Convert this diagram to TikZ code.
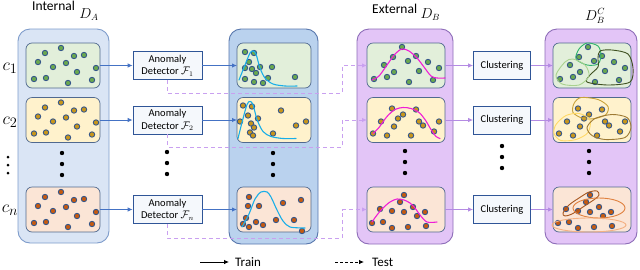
\documentclass[tikz,border=0pt]{standalone}
\usepackage{fontspec}
\setmainfont{Carlito}
\usetikzlibrary{arrows.meta,positioning}

\definecolor{inbg}{HTML}{DAE5F5}
\definecolor{inedge}{HTML}{7E9CCB}
\definecolor{scbg}{HTML}{BAD2EE}
\definecolor{scedge}{HTML}{5877AD}
\definecolor{exbg}{HTML}{E3C5F7}
\definecolor{exedge}{HTML}{8D6DB8}
\definecolor{rowgreen}{HTML}{E2EFDA}
\definecolor{rowyellow}{HTML}{FFF2CC}
\definecolor{roworange}{HTML}{FBE5D6}
\definecolor{rowedge}{HTML}{50698F}
\definecolor{boxbg}{HTML}{F5F8FC}
\definecolor{boxedge}{HTML}{2F5597}
\definecolor{trainblue}{HTML}{4472C4}
\definecolor{testlilac}{HTML}{C9A0F0}
\definecolor{cluslilac}{HTML}{B48BE3}
\definecolor{ptedge}{HTML}{35568A}
\definecolor{ptgreen}{HTML}{6AA84F}
\definecolor{ptyellow}{HTML}{C9961A}
\definecolor{ptorange}{HTML}{C55A11}
\definecolor{curvecyan}{HTML}{19AEE8}
\definecolor{curvemag}{HTML}{F01ED6}
\definecolor{grpgreen}{HTML}{2FB36B}
\definecolor{grpdark}{HTML}{3D4F1F}
\definecolor{grplight}{HTML}{A9D18E}
\definecolor{grptan}{HTML}{C8A23A}
\definecolor{grpyel}{HTML}{FFD966}
\definecolor{grpbrown}{HTML}{9E7A33}
\definecolor{grprust}{HTML}{A8561F}
\definecolor{grporange}{HTML}{E0813F}
\definecolor{grppeach}{HTML}{F4B183}

% scatter of samples inside a box, offsets from its north west corner
\newcommand{\dotcloud}[3]{%
  \begin{scope}[shift={(#1.north west)}]
    \foreach \px/\py in #3
      \filldraw[sample,fill=#2] (\px,\py) circle[radius=2.7pt];
  \end{scope}}

\def\cloudA{19/10,35/5,12/19,27/24,40/20,48/13,58/12,70/25,51/29,8/36,20/35,42/40,66/37}
\def\cloudBa{8/9,17/10,12/19,8/25,15/26,19/30,23/24,35/24,8/36,17/39,26/40,31/35,58/34}
\def\cloudBb{6/8,15/9,11/18,21/21,3/24,14/26,17/30,13/35,16/38,44/13,59/28,69/24,36/36}
\def\cloudBn{12/10,11/19,22/19,46/16,64/13,9/31,6/37,12/40,19/35,26/38,39/33,57/33,65/44}
\def\cloudCa{35/4,17/22,26/14,41/18,49/13,61/19,72/25,52/28,27/29,20/34,7/36,42/39,66/37}
\def\cloudCb{25/11,49/12,14/24,31/21,52/24,27/29,36/17,72/24,56/28,6/36,20/38,44/38,67/34}
\def\cloudCn{37/8,13/22,25/24,33/15,46/20,37/25,58/25,50/29,5/36,16/35,25/41,41/40,59/39}

\begin{document}
\begin{tikzpicture}[x=1pt,y=-1pt,
    colbox/.style={rounded corners=12pt,line width=0.9pt},
    rowbox/.style={draw=rowedge,line width=0.7pt,rounded corners=6pt,
        minimum width=74pt,minimum height=45pt,inner sep=0pt,outer sep=0pt},
    widebox/.style={rowbox,minimum width=78pt},
    stagebox/.style={draw=boxedge,fill=boxbg,line width=0.8pt,
        minimum width=69pt,minimum height=28pt,inner sep=1pt,align=center,
        font=\fontsize{10.5}{12.5}\selectfont},
    clubox/.style={stagebox,minimum width=57pt},
    sample/.style={draw=ptedge,line width=0.9pt},
    trainline/.style={draw=trainblue,line width=0.9pt,
        -{Latex[length=5pt,width=4.5pt]}},
    clusline/.style={trainline,draw=cluslilac},
    testline/.style={draw=testlilac,line width=1pt,dash pattern=on 4pt off 3pt,
        -{Latex[length=5pt,width=4.5pt]}},
    bell/.style={line width=1.1pt,line cap=round},
    grp/.style={line width=0.9pt},
    title/.style={font=\fontsize{13.5}{16}\selectfont,inner sep=0pt},
    classlab/.style={font=\fontsize{19}{22}\selectfont,inner sep=1pt},
    legend/.style={font=\fontsize{13}{15}\selectfont,anchor=west,inner ysep=0pt}
]
\useasboundingbox (0,0) rectangle (640,269);

% ------------------------------------------------
% Geometry
% ------------------------------------------------
\def\xA{63}
\def\xF{167.5}
\def\xS{274}
\def\xB{406}
\def\xK{502}
\def\xC{592}

\def\yI{65.5}
\def\yII{120}
\def\yN{209.5}

% ------------------------------------------------
% Column frames
% ------------------------------------------------
\draw[colbox,fill=inbg,draw=inedge] (18,29) rectangle (109,243);
\draw[colbox,fill=scbg,draw=scedge] (229,29) rectangle (318,244);
\draw[colbox,fill=exbg,draw=exedge] (357,29) rectangle (453,244);
\draw[colbox,fill=exbg,draw=exedge] (545,29) rectangle (637,244);

% ------------------------------------------------
% Rows: class boxes and processing boxes
% ------------------------------------------------
\foreach \r/\yy/\c in {1/\yI/rowgreen,2/\yII/rowyellow,n/\yN/roworange}{
    \node[rowbox,fill=\c] (A\r) at (\xA,\yy) {};
    \node[stagebox] (F\r) at (\xF,\yy) {Anomaly\\Detector $\mathcal{F}_{\r}$};
    \node[rowbox,fill=\c] (S\r) at (\xS,\yy) {};
    \node[widebox,fill=\c] (B\r) at (\xB,\yy) {};
    \node[clubox] (K\r) at (\xK,\yy) {Clustering};
    \node[widebox,fill=\c] (C\r) at (\xC,\yy) {};
}

% class labels
\node[classlab] (c1) at (10,68) {$c_1$};
\node[classlab] (c2) at (10,122) {$c_2$};
\node[classlab] (cn) at (10,210) {$c_n$};
\foreach \k in {0,1,2}
    \fill (8,{157+8*\k}) circle[radius=1.5pt];

% ------------------------------------------------
% Samples
% ------------------------------------------------
\dotcloud{A1}{ptgreen}{\cloudA}
\dotcloud{A2}{ptyellow}{\cloudA}
\dotcloud{An}{ptorange}{\cloudA}

\dotcloud{S1}{ptgreen}{\cloudBa}
\dotcloud{S2}{ptyellow}{\cloudBb}
\dotcloud{Sn}{ptorange}{\cloudBn}

\dotcloud{B1}{ptgreen}{\cloudCa}
\dotcloud{B2}{ptyellow}{\cloudCb}
\dotcloud{Bn}{ptorange}{\cloudCn}

\dotcloud{C1}{ptgreen}{\cloudCa}
\dotcloud{C2}{ptyellow}{\cloudCb}
\dotcloud{Cn}{ptorange}{\cloudCn}

% ------------------------------------------------
% Fitted densities
% ------------------------------------------------
\begin{scope}[shift={(S1.north west)}]
\draw[bell,curvecyan] plot[smooth] coordinates {(2,37) (8,22) (13,10) (16,8) (19,11) (23,25) (28,35) (36,41) (48,43) (60,43)};
\end{scope}
\begin{scope}[shift={(S2.north west)}]
\draw[bell,curvecyan] plot[smooth] coordinates {(1,41) (5,25) (10,7) (13,4) (16,7) (20,22) (26,34) (34,39) (46,41) (59,41)};
\end{scope}
\begin{scope}[shift={(Sn.north west)}]
\draw[bell,curvecyan] plot[smooth] coordinates {(5,40) (12,27) (18,12) (24,5) (30,5) (34,10) (40,23) (46,34) (53,40) (68,41)};
\end{scope}

\begin{scope}[shift={(B1.north west)}]
\draw[bell,curvemag] plot[smooth] coordinates {(5,37) (12,33) (20,22) (28,11) (35,6) (42,8) (50,15) (57,24) (64,33) (70,35) (78,35)};
\end{scope}
\begin{scope}[shift={(B2.north west)}]
\draw[bell,curvemag] plot[smooth] coordinates {(6,36) (12,30) (20,19) (28,12) (36,10) (44,11) (52,15) (58,22) (64,32) (69,39) (73,41)};
\end{scope}
\begin{scope}[shift={(Bn.north west)}]
\draw[bell,curvemag] plot[smooth] coordinates {(5,35) (10,28) (16,21) (23,15) (30,12) (37,13) (43,16) (48,21) (53,28) (60,35) (70,35)};
\end{scope}

% ------------------------------------------------
% Clusters
% ------------------------------------------------
\begin{scope}[shift={(C1.north west)}]
\draw[grp,grpgreen] plot[smooth cycle] coordinates {(26,6) (34,0) (45,3) (48,12) (45,21) (34,22) (23,16)};
\draw[grp,grpdark] plot[smooth cycle] coordinates {(47,8) (59,7) (75,11) (80,25) (77,39) (55,42) (34,39) (37,32) (45,24) (45,15)};
\draw[grp,grplight] plot[smooth cycle] coordinates {(12,19) (20,16) (32,22) (36,33) (26,42) (9,41) (3,32)};
\end{scope}
\begin{scope}[shift={(C2.north west)}]
\draw[grp,grptan] plot[smooth cycle] coordinates {(21,6) (28,0) (45,2) (55,9) (53,17) (42,21) (30,21) (20,15)};
\draw[grp,grpyel] plot[smooth cycle] coordinates {(3,27) (13,18) (26,16) (37,22) (35,35) (23,42) (8,43) (1,36)};
\draw[grp,grpbrown] plot[smooth cycle] coordinates {(34,30) (42,21) (59,17) (74,20) (78,30) (72,40) (52,42) (39,38)};
\end{scope}
\begin{scope}[shift={(Cn.north west)}]
\draw[grp,grprust] plot[smooth cycle] coordinates {(10,26) (16,18) (26,11) (36,5) (44,4) (46,8) (42,12) (30,20) (19,27) (12,29)};
\draw[grp,grporange] (46,21) ellipse[x radius=26pt,y radius=10pt];
\draw[grp,grppeach] (36,38) ellipse[x radius=37pt,y radius=7pt];
\end{scope}

% ------------------------------------------------
% Ellipses between rows
% ------------------------------------------------
\foreach \cx/\cy in {62/153,167/152,273/153,405/151,502/146,589/151}
    \foreach \k in {0,1,2}
        \fill ({\cx},{\cy+11*\k}) circle[radius=2.2pt];

% ------------------------------------------------
% Connectors
% ------------------------------------------------
\foreach \r in {1,2,n}{
    \draw[trainline] (A\r) -- (F\r);
    \draw[trainline] (F\r) -- (S\r);
    \draw[clusline] (B\r) -- (K\r);
    \draw[clusline] (K\r) -- (C\r);
}

% test paths below each detector
\foreach \r/\yt in {1/93,2/147,n/238}{
    \coordinate (turn\r) at (342,\yt);
    \draw[testline] (F\r.south) |- (turn\r) |- (B\r.west);
}

% ------------------------------------------------
% Titles
% ------------------------------------------------
\node[title,anchor=base west] (tIn) at (32,10) {Internal};
\node[title,anchor=base west] (tDA) at ([xshift=4pt,yshift=-8pt]tIn.base east) {$D_A$};
\node[title,anchor=base west] (tEx) at (372,13) {External};
\node[title,anchor=base west] (tDB) at ([xshift=3pt,yshift=-5pt]tEx.base east) {$D_B$};
\node[title,anchor=base west] (tDC) at (585,20) {$D_B^C$};

% ------------------------------------------------
% Legend
% ------------------------------------------------
\coordinate (trainstart) at (200,262);
\node[legend,inner xsep=6pt] (trainlab) at (229,262) {Train};
\draw[line width=0.8pt,-{Latex[length=5pt,width=4.5pt]}] (trainstart) -- (trainlab.west);

\coordinate (teststart) at (335,262);
\node[legend,inner xsep=8pt] (testlab) at (364,262) {Test};
\draw[line width=0.8pt,dash pattern=on 3pt off 2pt,-{Latex[length=5pt,width=4.5pt]}] (teststart) -- (testlab.west);

\end{tikzpicture}
\end{document}
